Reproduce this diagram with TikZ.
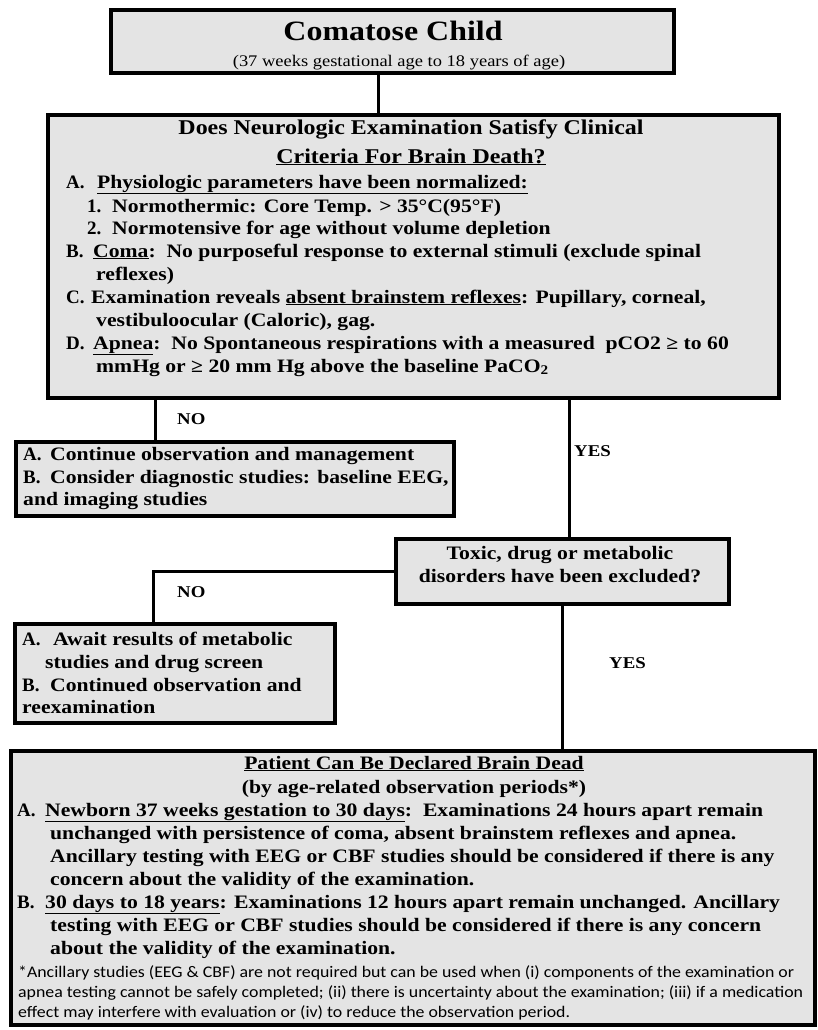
\documentclass[tikz,border=0pt]{standalone}
\usepackage{fontspec}
\setmainfont[FakeStretch=1.14]{Liberation Serif}
\newfontfamily\plainserif{Liberation Serif}
\newfontfamily\fnfont[FakeStretch=1.1]{Carlito}
\definecolor{boxgray}{RGB}{228,228,228}
\begin{document}
\begin{tikzpicture}[x=1pt,y=-1pt,
  box/.style={draw=black,line width=3.6pt,fill=boxgray,inner sep=0pt,anchor=north west},
  ln/.style={anchor=base west,inner sep=0pt,font=\fontsize{19}{23}\selectfont\bfseries},
  itm/.style={anchor=base west,inner sep=0pt,font=\fontsize{19}{23}\selectfont\plainserif\bfseries},
  cl/.style={anchor=base,inner sep=0pt,font=\fontsize{19}{23}\selectfont\bfseries},
  fn/.style={anchor=base west,inner sep=0pt,font=\fontsize{16.2}{18}\selectfont\fnfont},
  lbl/.style={anchor=base west,inner sep=0pt,font=\fontsize{16.5}{20}\selectfont\bfseries},
  con/.style={line width=3pt}]
\useasboundingbox (0,0) rectangle (817,1030);
% boxes
\node[box,minimum width=563pt,minimum height=63pt] (top) at (109,8) {};
\node[box,minimum width=731pt,minimum height=283pt] (big) at (46,113) {};
\node[box,minimum width=438pt,minimum height=74pt] (no1) at (14,440) {};
\node[box,minimum width=333pt,minimum height=65pt] (tox) at (394,537) {};
\node[box,minimum width=320pt,minimum height=99pt] (no2) at (13,622) {};
\node[box,minimum width=804pt,minimum height=274pt] (bot) at (9,749) {};
% connectors
\coordinate (c1) at (378,0);
\draw[con] (top.south -| c1) -- (big.north -| c1);
\coordinate (c2) at (155,0);
\draw[con] (big.south -| c2) -- (no1.north -| c2);
\coordinate (c3) at (569,0);
\draw[con] (big.south -| c3) -- (tox.north -| c3);
\coordinate (c4) at (153,0);
\draw[con] (tox.west) -| (no2.north -| c4);
\coordinate (c5) at (562,0);
\draw[con] (tox.south -| c5) -- (bot.north -| c5);
% labels
\node[lbl] (lno1) at (177,424) {NO};
\node[lbl] (lyes1) at (574,456) {YES};
\node[lbl] (lno2) at (177,597) {NO};
\node[lbl] (lyes2) at (609,668) {YES};
% top box text
\node[anchor=base,inner sep=0pt,font=\fontsize{28}{32}\selectfont\bfseries] (t1) at (393,41) {Comatose Child};
\node[anchor=base,inner sep=0pt,font=\fontsize{16.2}{18}\selectfont] (t2) at (399,67) {(37 weeks gestational age to 18 years of age)};
% big box text
\node[cl,font=\fontsize{21}{24}\selectfont\bfseries] (b0) at (411,135) {Does Neurologic Examination Satisfy Clinical};
\node[cl,font=\fontsize{21}{24}\selectfont\bfseries] (b1) at (411,163) {\underline{Criteria For Brain Death?}};
\node[itm] (ba) at (66,188) {A.};
\node[ln] (ba2) at (97,188) {\underline{Physiologic parameters have been normalized:}};
\node[itm] (b11) at (87,212) {1.};
\node[ln] (b12) at (112,212) {Normothermic: Core Temp. > 35°C(95°F)};
\node[itm] (b21) at (87,234) {2.};
\node[ln] (b22) at (112,234) {Normotensive for age without volume depletion};
\node[itm] (bb) at (66,257) {B.};
\node[ln] (bb2) at (93,257) {\underline{Coma}:\ \ No purposeful response to external stimuli (exclude spinal};
\node[ln] (bb3) at (96,280) {reflexes)};
\node[itm] (bc) at (66,303) {C.};
\node[ln] (bc2) at (91,303) {Examination reveals \underline{absent brainstem reflexes}: Pupillary, corneal,};
\node[ln] (bc3) at (96,326) {vestibuloocular (Caloric), gag.};
\node[itm] (bd) at (66,349) {D.};
\node[ln] (bd2) at (93,349) {\underline{Apnea}:\ \ No Spontaneous respirations with a measured\ \ pCO2 ≥ to 60};
\node[ln] (bd3) at (96,372) {mmHg or ≥ 20 mm Hg above the baseline PaCO\textsubscript{2}};
% no1 text
\node[itm] (n1a) at (23,460) {A.};
\node[ln] (n1a2) at (50,460) {Continue observation and management};
\node[itm] (n1b) at (23,483) {B.};
\node[ln] (n1b2) at (50,483) {Consider diagnostic studies: baseline EEG,};
\node[ln] (n1c) at (23,505) {and imaging studies};
% toxic text
\node[cl] (x1) at (560,559) {Toxic, drug or metabolic};
\node[cl] (x2) at (560,582) {disorders have been excluded?};
% no2 text
\node[itm] (n2a) at (22,645) {A.};
\node[ln] (n2a2) at (53,645) {Await results of metabolic};
\node[ln] (n2a3) at (45,668) {studies and drug screen};
\node[itm] (n2b) at (22,691) {B.};
\node[ln] (n2b2) at (50,691) {Continued observation and};
\node[ln] (n2c) at (22,713) {reexamination};
% bottom text
\node[cl] (p0) at (414,769) {\underline{Patient Can Be Declared Brain Dead}};
\node[cl] (p1) at (414,793) {(by age-related observation periods*)};
\node[itm] (pa) at (17,816) {A.};
\node[ln] (pa1) at (45,816) {\underline{Newborn 37 weeks gestation to 30 days}:\ \ Examinations 24 hours apart remain};
\node[ln] (pa2) at (50,839) {unchanged with persistence of coma, absent brainstem reflexes and apnea.};
\node[ln] (pa3) at (50,862) {Ancillary testing with EEG or CBF studies should be considered if there is any};
\node[ln] (pa4) at (50,885) {concern about the validity of the examination.};
\node[itm] (pb) at (17,908) {B.};
\node[ln] (pb1) at (45,908) {\underline{30 days to 18 years}: Examinations 12 hours apart remain unchanged. Ancillary};
\node[ln] (pb2) at (50,931) {testing with EEG or CBF studies should be considered if there is any concern};
\node[ln] (pb3) at (50,954) {about the validity of the examination.};
\node[fn] (f1) at (18,977) {*Ancillary studies (EEG \& CBF) are not required but can be used when (i) components of the examination or};
\node[fn] (f2) at (18,997) {apnea testing cannot be safely completed; (ii) there is uncertainty about the examination; (iii) if a medication};
\node[fn] (f3) at (18,1017) {effect may interfere with evaluation or (iv) to reduce the observation period.};
\end{tikzpicture}
\end{document}
